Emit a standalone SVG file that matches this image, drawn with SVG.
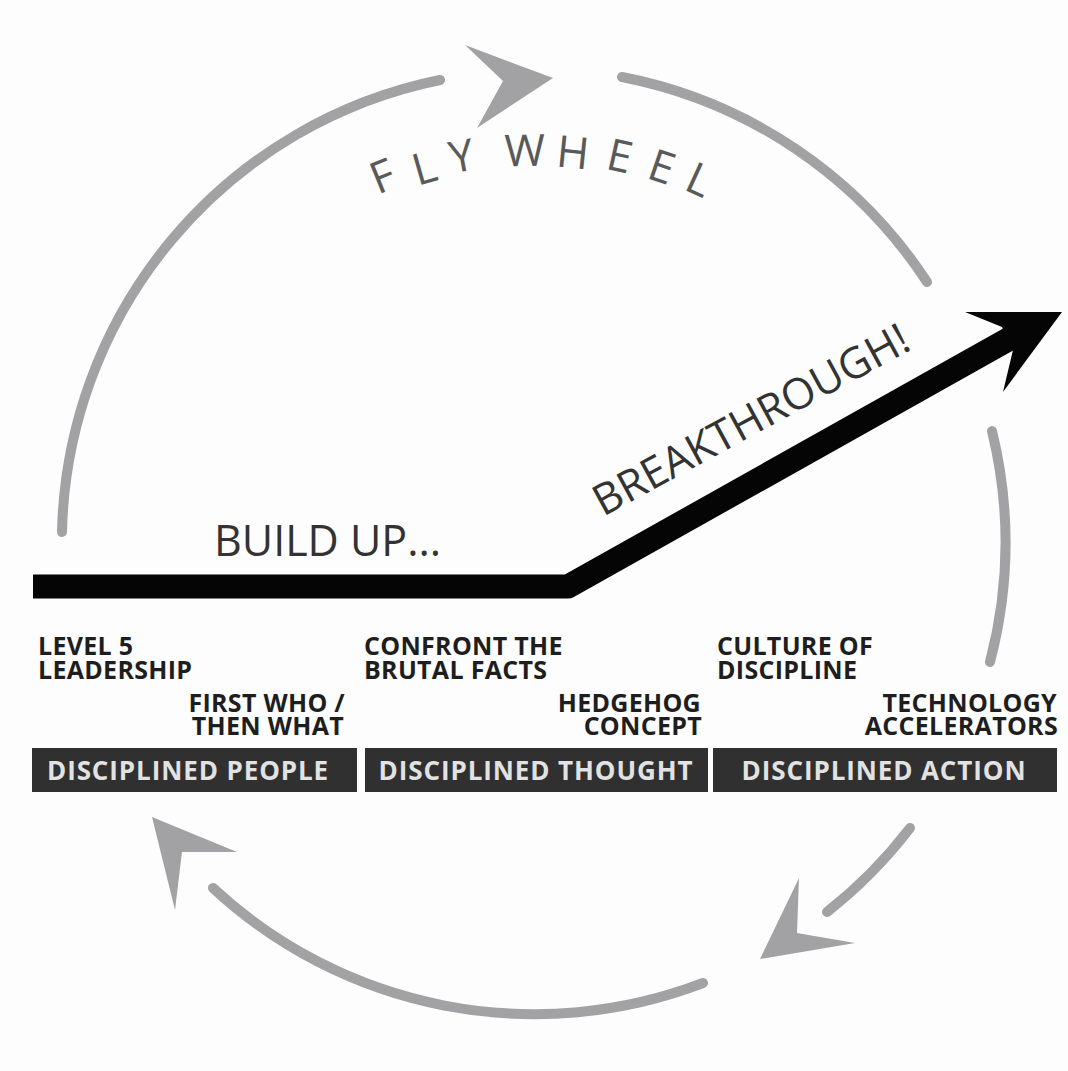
<svg xmlns="http://www.w3.org/2000/svg" width="1068" height="1071" viewBox="0 0 1068 1071">
<style>
.arc{fill:none;stroke:#a2a2a4;stroke-width:10;stroke-linecap:round}
.head{fill:#a2a2a4}
.fly{font-family:"Open Sans","Noto Sans",sans-serif;font-size:44px;fill:#5a5a5a;text-anchor:middle}
.big{font-family:"Open Sans","Noto Sans",sans-serif;font-size:43px;fill:#333333}
.lbl{font-family:"Open Sans","Noto Sans",sans-serif;font-weight:bold;font-size:25px;fill:#1e1e1e;letter-spacing:0.3px}
.box{fill:#303030}
.boxt{font-family:"Open Sans","Noto Sans",sans-serif;font-weight:bold;font-size:26px;fill:#e2e2e2;text-anchor:middle;letter-spacing:0.9px}
.r{text-anchor:end}
</style>
<rect x="0" y="0" width="1068" height="1071" fill="#fcfdfc"/>
<g id="flywheel-cycle">
<path class="arc" d="M62,532 A472,472 0 0 1 440,80"/>
<path class="arc" d="M622,77 A472,472 0 0 1 927,282"/>
<path class="arc" d="M992,431 A472,472 0 0 1 990,662"/>
<path class="arc" d="M910,828 A472,472 0 0 1 827,912"/>
<path class="arc" d="M703,983 A472,472 0 0 1 213,888"/>
<polygon class="head" points="465,45 553,78 477,128 503,81"/>
<polygon class="head" points="760,959 799,878 797,933 855,943"/>
<polygon class="head" points="152,817 237,852 182,852 175,910"/>
</g>
<g id="flywheel-title">
<text class="fly" x="533" y="162" transform="rotate(-22.2 533 545)">F</text>
<text class="fly" x="533" y="168" transform="rotate(-16.1 533 545)">L</text>
<text class="fly" x="533" y="165" transform="rotate(-10.4 533 545)">Y</text>
<text class="fly" x="533" y="166" transform="rotate(-1.2 533 545)">W</text>
<text class="fly" x="533" y="166" transform="rotate(5.8 533 545)">H</text>
<text class="fly" x="533" y="162" transform="rotate(12.6 533 545)">E</text>
<text class="fly" x="533" y="161" transform="rotate(18.8 533 545)">E</text>
<text class="fly" x="533" y="159" transform="rotate(24.5 533 545)">L</text>
</g>
<g id="breakthrough-arrow">
<path d="M33,586.5 L568,586.5 L1009,339" fill="none" stroke="#050505" stroke-width="24" stroke-linejoin="round"/>
<polygon points="965,312 1062,312 1003,392 1013,350 1002,327" fill="#050505"/>
<text class="big" x="214" y="556">BUILD UP...</text>
<text class="big" x="603" y="517" transform="rotate(-28.5 603 517)">BREAKTHROUGH!</text>
</g>
<g id="disciplined-people">
<text class="lbl"><tspan x="38" y="655">LEVEL 5</tspan><tspan x="38" y="679">LEADERSHIP</tspan></text>
<text class="lbl r"><tspan x="345" y="712">FIRST WHO /</tspan><tspan x="344" y="735">THEN WHAT</tspan></text>
<rect class="box" x="32" y="748" width="325" height="44"/>
<text class="boxt" x="188" y="780">DISCIPLINED PEOPLE</text>
</g>
<g id="disciplined-thought">
<text class="lbl"><tspan x="364" y="655">CONFRONT THE</tspan><tspan x="364" y="679">BRUTAL FACTS</tspan></text>
<text class="lbl r"><tspan x="701" y="712">HEDGEHOG</tspan><tspan x="702" y="735">CONCEPT</tspan></text>
<rect class="box" x="365" y="748" width="343" height="44"/>
<text class="boxt" x="536" y="780">DISCIPLINED THOUGHT</text>
</g>
<g id="disciplined-action">
<text class="lbl"><tspan x="717" y="655">CULTURE OF</tspan><tspan x="717" y="679">DISCIPLINE</tspan></text>
<text class="lbl r"><tspan x="1057" y="712">TECHNOLOGY</tspan><tspan x="1058" y="735">ACCELERATORS</tspan></text>
<rect class="box" x="713" y="748" width="344" height="44"/>
<text class="boxt" x="884" y="780">DISCIPLINED ACTION</text>
</g>
</svg>
